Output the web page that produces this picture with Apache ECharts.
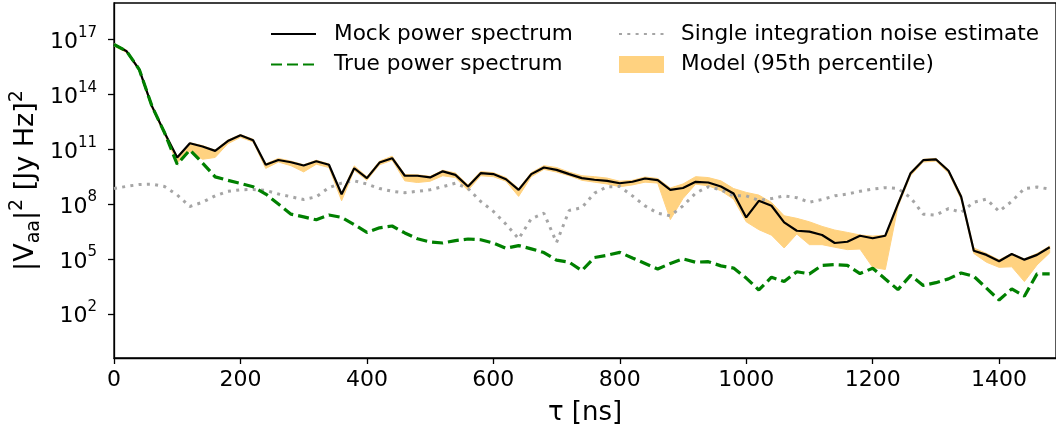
<!DOCTYPE html>
<html>
<head>
<meta charset="utf-8">
<script src="https://cdn.jsdelivr.net/npm/echarts@6/dist/echarts.min.js"></script>
<style>
html,body{margin:0;padding:0;background:#fff;}
#chart{width:1056px;height:432px;}
</style>
</head>
<body>
<div id="chart"></div>
<script>
// delay tau [ns]
const tau = [0,20,40,60,80,100,120,140,160,180,200,220,240,260,280,300,320,340,360,380,
  400,420,440,460,480,500,520,540,560,580,600,620,640,660,680,700,720,740,760,780,
  800,820,840,860,880,900,920,940,960,980,1000,1020,1040,1060,1080,1100,1120,1140,1160,1180,
  1200,1220,1240,1260,1280,1300,1320,1340,1360,1380,1400,1420,1440,1460,1480];

// all values below are log10 of |V_aa|^2 [Jy Hz]^2
const mockLog = [16.73,16.36,15.36,13.36,11.9,10.55,11.33,11.15,10.91,11.45,
  11.76,11.49,10.15,10.41,10.29,10.11,10.34,10.15,8.54,9.96,
  9.42,10.27,10.51,9.55,9.55,9.46,9.79,9.6,8.96,9.69,
  9.64,9.36,8.78,9.64,10.0,9.87,9.64,9.42,9.33,9.27,
  9.14,9.22,9.40,9.31,8.78,8.88,9.22,9.18,8.96,8.58,
  7.27,8.18,7.91,7.0,6.54,6.49,6.31,5.87,5.94,6.27,
  6.13,6.27,8.0,9.69,10.4,10.45,9.82,8.4,5.45,5.22,
  4.87,5.27,4.96,5.22,5.64];

const trueLog = [16.73,16.36,15.36,13.36,11.9,10.18,10.96,10.25,9.49,9.3,
  9.13,8.95,8.55,8.0,7.45,7.3,7.14,7.4,7.27,6.88,
  6.45,6.7,6.8,6.42,6.1,5.93,5.87,6.0,6.09,6.05,
  5.87,5.58,5.73,5.55,5.35,4.93,4.82,4.36,5.08,5.2,
  5.36,5.05,4.75,4.45,4.75,5.0,4.82,4.85,4.62,4.5,
  3.95,3.3,4.0,3.76,4.3,4.18,4.65,4.69,4.65,4.2,
  4.49,3.9,3.32,4.1,3.55,3.7,3.91,4.23,4.05,3.4,
  2.75,3.36,2.96,4.18,4.18];

const noiseLog = [8.85,8.97,9.07,9.09,8.96,8.5,7.87,8.1,8.45,8.7,
  8.78,8.8,8.75,8.55,8.4,8.25,8.4,8.9,9.15,9.27,
  9.1,8.85,8.7,8.62,8.7,8.78,8.95,9.14,8.85,8.15,
  7.6,6.9,6.1,7.2,7.5,5.9,7.65,7.8,8.6,8.95,
  8.96,8.45,7.9,7.5,7.36,7.9,8.6,8.95,8.78,8.45,
  8.45,8.2,8.3,8.45,8.35,8.1,8.25,8.45,8.55,8.7,
  8.82,8.9,8.85,8.35,7.45,7.4,7.75,7.55,8.1,8.27,
  7.6,8.15,8.85,8.93,8.82];

const modelLoLog = [16.65,16.28,15.28,13.25,11.8,10.25,10.9,10.45,10.55,11.3,
  11.65,11.4,9.95,10.3,10.1,9.76,10.18,10.0,8.18,9.85,
  9.3,10.15,10.4,9.27,9.18,9.25,9.55,9.45,8.75,9.55,
  9.5,9.25,8.42,9.5,9.9,9.75,9.55,9.3,9.2,9.1,
  8.95,9.05,9.2,9.15,7.15,8.3,9.09,9.0,8.73,8.27,
  7.03,6.6,6.3,5.6,6.36,5.78,5.78,5.64,5.51,5.54,
  4.54,4.42,7.85,9.55,10.3,10.35,9.7,8.25,5.3,4.82,
  4.54,4.57,3.76,4.67,5.33];

const modelHiLog = [16.78,16.42,15.42,13.42,11.97,10.6,11.35,11.2,10.95,11.5,
  11.8,11.55,10.2,10.5,10.35,10.15,10.4,10.2,8.6,10.09,
  9.5,10.35,10.62,9.62,9.6,9.52,9.85,9.7,9.05,9.78,
  9.72,9.45,8.85,9.72,10.1,10.0,9.75,9.55,9.5,9.42,
  9.25,9.3,9.48,9.4,8.88,9.1,9.5,9.45,9.27,8.85,
  8.64,8.49,8.09,7.36,7.22,7.03,6.78,6.58,6.45,6.31,
  6.25,6.3,8.1,9.75,10.45,10.5,9.88,8.5,5.6,5.3,
  4.95,5.3,5.0,5.3,5.7];

const yTickExps = [2,5,8,11,14,17];
const xTicks = [0,200,400,600,800,1000,1200,1400];

const FONT = 'DejaVu Sans';
const pair = (arr) => tau.map((t,i) => [t, arr[i]]);
const bandData = tau.map((t,i) => [t, modelLoLog[i], modelHiLog[i]]);

function renderBand(params, api) {
  if (params.dataIndexInside !== 0) return null;
  const upper = [], lower = [];
  for (let i = 0; i < bandData.length; i++) {
    upper.push(api.coord([bandData[i][0], bandData[i][2]]));
    lower.push(api.coord([bandData[i][0], bandData[i][1]]));
  }
  const pts = upper.concat(lower.reverse());
  return {
    type:'polygon',
    shape:{points: pts},
    style:{fill:'#ffd280', stroke:'#ffd280', lineWidth:1}
  };
}

const chart = echarts.init(document.getElementById('chart'), null, {renderer:'canvas'});
const option = {
  animation: false,
  backgroundColor: '#fff',
  textStyle: {fontFamily: FONT},
  grid: {left:114, right:0, top:3, bottom:74, show:true, borderColor:'#000', borderWidth:1.3,
    backgroundColor:'transparent', containLabel:false, outerBoundsMode:'none'},
  legend: [
    {
      left: 265, top: 18, orient:'vertical', itemWidth:45, itemHeight:17, itemGap:8.5,
      itemStyle:{opacity:0},
      textStyle:{fontFamily:FONT, fontSize:21.6, color:'#000', padding:[0,0,0,13]},
      data:[{name:'Mock power spectrum'},{name:'True power spectrum'}]
    },
    {
      left: 613, top: 18, orient:'vertical', itemWidth:45, itemHeight:17, itemGap:8.5,
      textStyle:{fontFamily:FONT, fontSize:21.6, color:'#000', padding:[0,0,0,12]},
      data:[
        {name:'Single integration noise estimate', itemStyle:{opacity:0}},
        {name:'Model (95th percentile)', icon:'rect', itemStyle:{color:'#ffd280'}}
      ]
    }
  ],
  xAxis: {
    type:'value', min:0, max:1490,
    name:'τ [ns]', nameLocation:'middle', nameGap:42, nameMoveOverlap:false,
    nameTextStyle:{fontFamily:FONT, fontSize:26, color:'#000'},
    axisLine:{show:true, onZero:false, lineStyle:{color:'#000', width:1.3}},
    axisTick:{show:true, length:6, lineStyle:{color:'#000', width:1.3}, customValues: xTicks},
    axisLabel:{fontFamily:FONT, fontSize:22, color:'#000', margin:11, customValues: xTicks,
      formatter: (v) => String(Math.round(v))},
    splitLine:{show:false}
  },
  yAxis: {
    type:'value', min:-0.42, max:19.0,
    name:'{b||V}{sub|aa}{b||}{sup|2}{b| [Jy Hz]}{sup|2}',
    nameLocation:'middle', nameRotate:90, nameGap:70, nameMoveOverlap:false,
    nameTextStyle:{fontFamily:FONT, fontSize:27, color:'#000',
      rich:{
        b:{fontFamily:FONT, fontSize:27, color:'#000', lineHeight:36, verticalAlign:'middle'},
        sub:{fontFamily:FONT, fontSize:19, color:'#000', lineHeight:19, verticalAlign:'bottom'},
        sup:{fontFamily:FONT, fontSize:19, color:'#000', lineHeight:19, verticalAlign:'top'}
      }},
    axisLine:{show:true, onZero:false, lineStyle:{color:'#000', width:1.3}},
    axisTick:{show:true, length:6, lineStyle:{color:'#000', width:1.3}, customValues: yTickExps},
    axisLabel:{
      customValues: yTickExps, margin:17,
      formatter: (v) => '{b|10}{s|' + Math.round(v) + '}',
      rich:{
        b:{fontFamily:FONT, fontSize:22, color:'#000', lineHeight:28, verticalAlign:'bottom'},
        s:{fontFamily:FONT, fontSize:15, color:'#000', lineHeight:16, verticalAlign:'top'}
      }
    },
    splitLine:{show:false}
  },
  series: [
    {
      name:'Model (95th percentile)', type:'custom', data: bandData,
      encode:{x:0, y:[1,2]}, renderItem: renderBand, clip:true, z:1,
      itemStyle:{color:'#ffd280'}, silent:true
    },
    {
      name:'Mock power spectrum', type:'line', data: pair(mockLog), symbol:'none',
      color:'#000', lineStyle:{color:'#000', width:2.2}, z:3
    },
    {
      name:'Single integration noise estimate', type:'line', data: pair(noiseLog), symbol:'none',
      color:'#a5a5a5', lineStyle:{color:'#a5a5a5', width:3, type:[3,5.3]}, z:2
    },
    {
      name:'True power spectrum', type:'line', data: pair(trueLog), symbol:'none',
      color:'#008000', lineStyle:{color:'#008000', width:3.2, type:[11,5]}, z:4
    }
  ]
};
chart.setOption(option);
</script>
</body>
</html>
